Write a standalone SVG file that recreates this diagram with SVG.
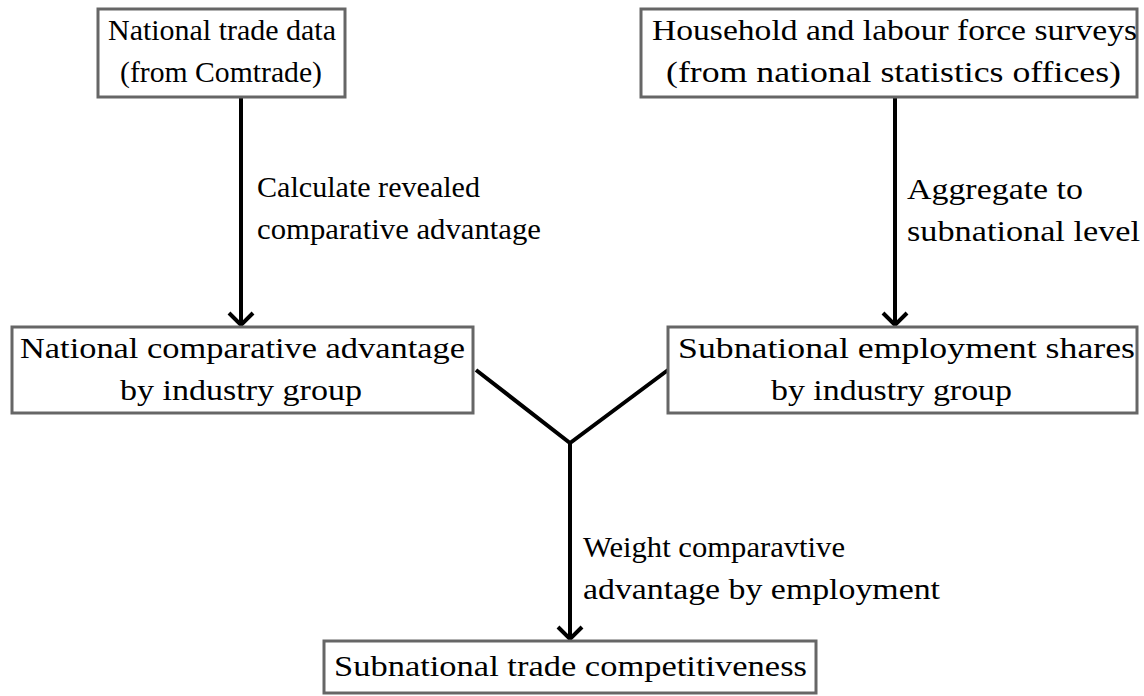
<svg xmlns="http://www.w3.org/2000/svg" width="1144" height="696" viewBox="0 0 1144 696">
<defs>
<style>
.box{fill:#fff;stroke:#666;stroke-width:3}
.c{fill:none;stroke:#000;stroke-width:4}
.h{fill:none;stroke:#000;stroke-width:4;stroke-linejoin:miter}
</style>
</defs>
<g id="connectors">
<line class="c" x1="241" y1="97" x2="241" y2="324"/>
<path class="h" d="M229,313 L241,325 L253,313"/>
<line class="c" x1="895" y1="97" x2="895" y2="324"/>
<path class="h" d="M883,313 L895,325 L907,313"/>
<path class="c" d="M476,370 L570,443 L668,370"/>
<line class="c" x1="570" y1="443" x2="570" y2="638"/>
<path class="h" d="M558,627 L570,639 L582,627"/>
<text x="257" y="197" font-family="Liberation Serif" font-size="29" textLength="223" lengthAdjust="spacingAndGlyphs">Calculate revealed</text>
<text x="257" y="239" font-family="Liberation Serif" font-size="29" textLength="284" lengthAdjust="spacingAndGlyphs">comparative advantage</text>
<text x="907" y="199" font-family="Liberation Serif" font-size="29" textLength="176" lengthAdjust="spacingAndGlyphs">Aggregate to</text>
<text x="907" y="241" font-family="Liberation Serif" font-size="29" textLength="233" lengthAdjust="spacingAndGlyphs">subnational level</text>
<text x="583" y="557" font-family="Liberation Serif" font-size="29" textLength="262" lengthAdjust="spacingAndGlyphs">Weight comparavtive</text>
<text x="583" y="599" font-family="Liberation Serif" font-size="29" textLength="357" lengthAdjust="spacingAndGlyphs">advantage by employment</text>
</g>
<g id="n1">
<rect class="box" x="98" y="9" width="247" height="88"/>
<text x="108" y="40" font-family="Liberation Serif" font-size="29" textLength="228" lengthAdjust="spacingAndGlyphs">National trade data</text>
<text x="120" y="82" font-family="Liberation Serif" font-size="29" textLength="202" lengthAdjust="spacingAndGlyphs">(from Comtrade)</text>
</g>
<g id="n2">
<rect class="box" x="641" y="9" width="496" height="88"/>
<text x="652" y="40" font-family="Liberation Serif" font-size="29" textLength="485" lengthAdjust="spacingAndGlyphs">Household and labour force surveys</text>
<text x="666" y="82" font-family="Liberation Serif" font-size="29" textLength="455" lengthAdjust="spacingAndGlyphs">(from national statistics offices)</text>
</g>
<g id="n3">
<rect class="box" x="12" y="327" width="461" height="86"/>
<text x="20" y="358" font-family="Liberation Serif" font-size="29" textLength="445" lengthAdjust="spacingAndGlyphs">National comparative advantage</text>
<text x="120" y="400" font-family="Liberation Serif" font-size="29" textLength="242" lengthAdjust="spacingAndGlyphs">by industry group</text>
</g>
<g id="n4">
<rect class="box" x="668" y="327" width="469" height="86"/>
<text x="678" y="358" font-family="Liberation Serif" font-size="29" textLength="457" lengthAdjust="spacingAndGlyphs">Subnational employment shares</text>
<text x="771" y="400" font-family="Liberation Serif" font-size="29" textLength="241" lengthAdjust="spacingAndGlyphs">by industry group</text>
</g>
<g id="n5">
<rect class="box" x="324" y="641" width="492" height="52"/>
<text x="334" y="676" font-family="Liberation Serif" font-size="29" textLength="473" lengthAdjust="spacingAndGlyphs">Subnational trade competitiveness</text>
</g>
</svg>
